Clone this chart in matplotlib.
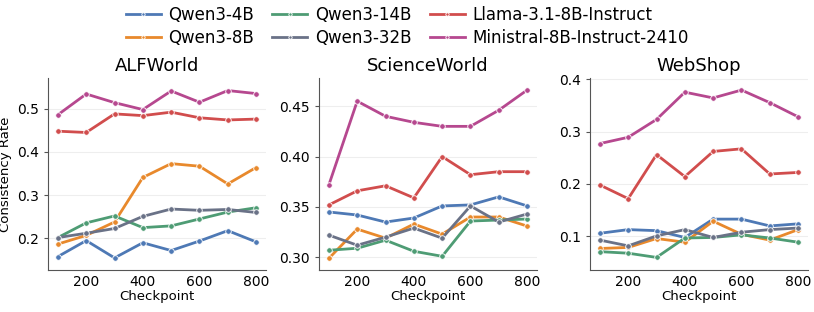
import numpy as np
import matplotlib
matplotlib.use("Agg")
import matplotlib.pyplot as plt

checkpoints = [100, 200, 300, 400, 500, 600, 700, 800]
models = ["Qwen3-4B", "Qwen3-8B", "Qwen3-14B", "Qwen3-32B",
          "Llama-3.1-8B-Instruct", "Ministral-8B-Instruct-2410"]
colors = ["#4e79b5", "#e8892c", "#4e9c74", "#6a7287", "#d14d4d", "#b6488f"]

alfworld = {
    "Qwen3-4B": [0.158, 0.195, 0.155, 0.190, 0.172, 0.194, 0.218, 0.192],
    "Qwen3-8B": [0.187, 0.207, 0.238, 0.341, 0.373, 0.367, 0.326, 0.364],
    "Qwen3-14B": [0.202, 0.236, 0.252, 0.225, 0.229, 0.245, 0.261, 0.271],
    "Qwen3-32B": [0.202, 0.212, 0.223, 0.251, 0.268, 0.265, 0.267, 0.260],
    "Llama-3.1-8B-Instruct": [0.448, 0.445, 0.488, 0.484, 0.492, 0.479, 0.474, 0.476],
    "Ministral-8B-Instruct-2410": [0.486, 0.534, 0.514, 0.498, 0.541, 0.515, 0.542, 0.535],
}
scienceworld = {
    "Qwen3-4B": [0.345, 0.342, 0.335, 0.339, 0.351, 0.352, 0.360, 0.351],
    "Qwen3-8B": [0.299, 0.328, 0.319, 0.333, 0.323, 0.340, 0.340, 0.331],
    "Qwen3-14B": [0.307, 0.309, 0.317, 0.306, 0.301, 0.336, 0.337, 0.338],
    "Qwen3-32B": [0.322, 0.312, 0.320, 0.329, 0.319, 0.351, 0.335, 0.343],
    "Llama-3.1-8B-Instruct": [0.352, 0.366, 0.371, 0.359, 0.400, 0.382, 0.385, 0.385],
    "Ministral-8B-Instruct-2410": [0.372, 0.455, 0.440, 0.434, 0.430, 0.430, 0.446, 0.466],
}
webshop = {
    "Qwen3-4B": [0.106, 0.113, 0.111, 0.098, 0.133, 0.133, 0.120, 0.124],
    "Qwen3-8B": [0.077, 0.079, 0.096, 0.089, 0.129, 0.104, 0.093, 0.113],
    "Qwen3-14B": [0.071, 0.068, 0.060, 0.097, 0.098, 0.103, 0.097, 0.089],
    "Qwen3-32B": [0.093, 0.082, 0.101, 0.113, 0.098, 0.108, 0.113, 0.116],
    "Llama-3.1-8B-Instruct": [0.198, 0.172, 0.256, 0.214, 0.262, 0.267, 0.219, 0.222],
    "Ministral-8B-Instruct-2410": [0.277, 0.289, 0.323, 0.375, 0.364, 0.379, 0.355, 0.328],
}

envs = [("ALFWorld", alfworld, (0.127, 0.571)),
        ("ScienceWorld", scienceworld, (0.2874, 0.478)),
        ("WebShop", webshop, (0.036, 0.402))]

fig = plt.figure(figsize=(8.14, 3.12), dpi=100)
lefts = [48, 319, 590]
axes = [fig.add_axes([l / 814, 1 - 270 / 312, 218 / 814, 192 / 312]) for l in lefts]

handles = []
for ax, (name, data, ylim) in zip(axes, envs):
    for model, c in zip(models, colors):
        h, = ax.plot(checkpoints, data[model], color=c, lw=2, marker="o",
                     markersize=4, markeredgecolor="white", markeredgewidth=0.6,
                     label=model)
        if ax is axes[0]:
            handles.append(h)
    ax.set_title(name, fontsize=13, pad=5)
    ax.set_xlabel("Checkpoint", fontsize=9.5, labelpad=1)
    ax.set_xticks([200, 400, 600, 800])
    ax.set_xlim(65, 835)
    ax.set_ylim(*ylim)
    ax.grid(axis="y", color="#eeeeee", lw=0.8)
    ax.set_axisbelow(True)
    for s in ["top", "right"]:
        ax.spines[s].set_visible(False)
    for s in ["left", "bottom"]:
        ax.spines[s].set_color("#555555")
    ax.tick_params(labelsize=10, length=3, color="#555555")
    ax.tick_params(axis="x", length=0)

axes[0].set_ylabel("Consistency Rate", fontsize=9.5)

fig.legend(handles=handles, loc="upper center", ncol=3, frameon=False,
           fontsize=12, bbox_to_anchor=(0.5, 1.03), handlelength=2.1,
           columnspacing=1.1, handletextpad=0.45, labelspacing=0.3,
           markerscale=0.6)

fig.savefig("out.png", dpi=100)
